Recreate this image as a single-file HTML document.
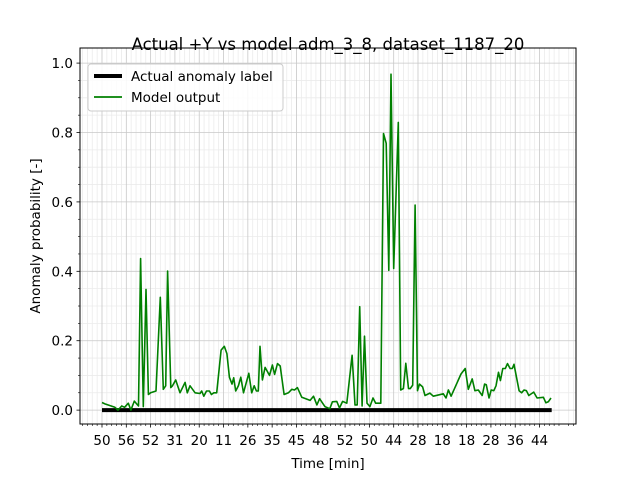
<!DOCTYPE html>
<html><head><meta charset="utf-8"><style>
body{margin:0;background:#fff;}
svg{display:block;font-family:"DejaVu Sans","Liberation Sans",sans-serif;}
</style></head><body>
<svg id="chart" width="640" height="480" viewBox="0 0 640 480" xmlns="http://www.w3.org/2000/svg">
<rect width="640" height="480" fill="#fff"/>
<g id="grid"></g>
<g id="series"></g>
<g id="axes"></g>
<text x="328" y="50" font-size="16.5" text-anchor="middle">Actual +Y vs model adm_3_8, dataset_1187_20</text>
<text x="328" y="468" font-size="13.5" text-anchor="middle">Time [min]</text>
<text transform="translate(40,236) rotate(-90)" font-size="13.5" text-anchor="middle">Anomaly probability [-]</text>
<g>
<rect x="88" y="64" width="195" height="47" rx="3" fill="#fff" fill-opacity="0.85" stroke="#ccc"/>
<line x1="94" y1="76" x2="122" y2="76" stroke="#000" stroke-width="4"/>
<text x="131" y="81" font-size="13.5">Actual anomaly label</text>
<line x1="94" y1="97" x2="122" y2="97" stroke="green" stroke-width="1.8"/>
<text x="131" y="102" font-size="13.5">Model output</text>
</g>
</svg>
<script>
const tickLabels=["50","56","52","31","20","11","26","35","45","48","52","50","44","28","18","18","28","36","44"];
const yTicks=[0,0.2,0.4,0.6,0.8,1.0];
const nPoints=186;
const outX=[0,1.2,5.3,6.6,8.1,9.3,10.8,11.9,13.3,15,15.9,17,18.1,19.1,20,22.2,24,25.2,26.2,27,28.3,29,30.3,32.1,34.2,35.1,36.2,38.3,40.3,41,41.9,43,44.2,45,46,47.2,49,50.3,51.4,52.4,53.5,54.2,55,56.1,57.1,58.2,60.4,61.6,62.6,63.5,64.3,65,66,67.1,68.9,70.1,71,72.2,73.3,74.9,76.7,78.1,79.2,80.4,82.2,85.6,87,88.4,89.5,91.7,93.7,94.8,96.6,97.7,99,100.7,102.9,104.1,105,106,107,108,109,110.2,111.5,112.6,114.7,115.8,116.9,118,118.9,120,121.9,122.9,124,125,126.1,126.8,127.8,128.8,129.8,130.6,131.9,132.9,134.9,136.3,140.4,141.5,142.5,143.6,147.7,149.4,150.7,152.3,153.4,154.8,156.4,157.4,158.1,159.2,160.1,161.2,162.1,163.1,163.9,164.9,165.9,166.8,167.9,168.8,169.5,171.6,172.6,173.6,174.6,175.6,177.6,179,181.6,182.6,183.6,184.7];
const outY=[0.022,0.018,0.008,0.0,0.012,0.008,0.02,0.0,0.026,0.012,0.437,0.01,0.348,0.045,0.05,0.055,0.325,0.06,0.07,0.401,0.065,0.07,0.087,0.05,0.08,0.05,0.07,0.05,0.048,0.055,0.04,0.055,0.055,0.045,0.05,0.05,0.173,0.184,0.163,0.095,0.075,0.093,0.055,0.07,0.095,0.05,0.106,0.05,0.07,0.055,0.055,0.184,0.087,0.123,0.1,0.13,0.103,0.134,0.127,0.045,0.05,0.06,0.058,0.065,0.037,0.028,0.04,0.015,0.033,0.01,0.004,0.024,0.025,0.006,0.025,0.02,0.158,0.015,0.015,0.298,0.012,0.213,0.02,0.01,0.035,0.02,0.02,0.797,0.769,0.403,0.968,0.408,0.829,0.058,0.062,0.135,0.062,0.062,0.072,0.591,0.056,0.075,0.067,0.042,0.049,0.04,0.047,0.035,0.058,0.04,0.104,0.12,0.06,0.09,0.056,0.058,0.042,0.075,0.073,0.035,0.058,0.056,0.07,0.109,0.085,0.12,0.12,0.134,0.12,0.12,0.132,0.056,0.05,0.058,0.056,0.042,0.052,0.035,0.037,0.021,0.024,0.035];
const labelY=0;

const L=80,R=576,T=48,B=424;
const xMin=-9.05,xMax=195,yMin=-0.04,yMax=1.0435;
const sx=v=>L+(v-xMin)/(xMax-xMin)*(R-L);
const sy=v=>B-(v-yMin)/(yMax-yMin)*(B-T);
const NS="http://www.w3.org/2000/svg";
function mk(tag,attrs,parent){const e=document.createElementNS(NS,tag);for(const k in attrs)e.setAttribute(k,attrs[k]);parent.appendChild(e);return e;}
const grid=document.getElementById('grid'),axes=document.getElementById('axes'),series=document.getElementById('series');
for(let v=-8;v<=194;v+=2){if(v%10===0)continue;const x=sx(v);
 const g=mk('line',{x1:x,x2:x,y1:T,y2:B,stroke:'#ebebeb','stroke-width':0.8},grid);
 
 const t=mk('line',{x1:x,x2:x,y1:B,y2:B+2,stroke:'#000','stroke-width':0.6},axes);
 }
for(let i=-0;i<=20;i++){const v=i*0.05;if(i%4===0)continue;const y=sy(v);
 const g=mk('line',{x1:L,x2:R,y1:y,y2:y,stroke:'#ebebeb','stroke-width':0.8},grid);
 
 const t=mk('line',{x1:L-2,x2:L,y1:y,y2:y,stroke:'#000','stroke-width':0.6},axes);
 }
tickLabels.forEach((lab,i)=>{const x=sx(i*10);
 const g=mk('line',{x1:x,x2:x,y1:T,y2:B,stroke:'#c8c8c8','stroke-width':0.8},grid);
 
 const t=mk('line',{x1:x,x2:x,y1:B,y2:B+3.5,stroke:'#000','stroke-width':0.8},axes);
 
 const tx=mk('text',{x:x,y:B+21,'font-size':13.5,'text-anchor':'middle'},axes);tx.textContent=lab;
 });
yTicks.forEach(v=>{const y=sy(v);
 const g=mk('line',{x1:L,x2:R,y1:y,y2:y,stroke:'#c8c8c8','stroke-width':0.8},grid);
 
 const t=mk('line',{x1:L-3.5,x2:L,y1:y,y2:y,stroke:'#000','stroke-width':0.8},axes);
 
 const tx=mk('text',{x:L-7,y:y+5,'font-size':13.5,'text-anchor':'end'},axes);tx.textContent=v.toFixed(1);
 });
const frame=mk('rect',{x:L,y:T,width:R-L,height:B-T,fill:'none',stroke:'#000','stroke-width':1},axes);

const lab=mk('line',{x1:sx(0),x2:sx(nPoints-1),y1:sy(labelY),y2:sy(labelY),stroke:'#000','stroke-width':4},series);

const pts=outX.map((x,i)=>sx(x).toFixed(1)+','+sy(outY[i]).toFixed(1)).join(' ');
const pl=mk('polyline',{points:pts,fill:'none',stroke:'green','stroke-width':1.6,'stroke-linejoin':'round'},series);

</script>
</body></html>
